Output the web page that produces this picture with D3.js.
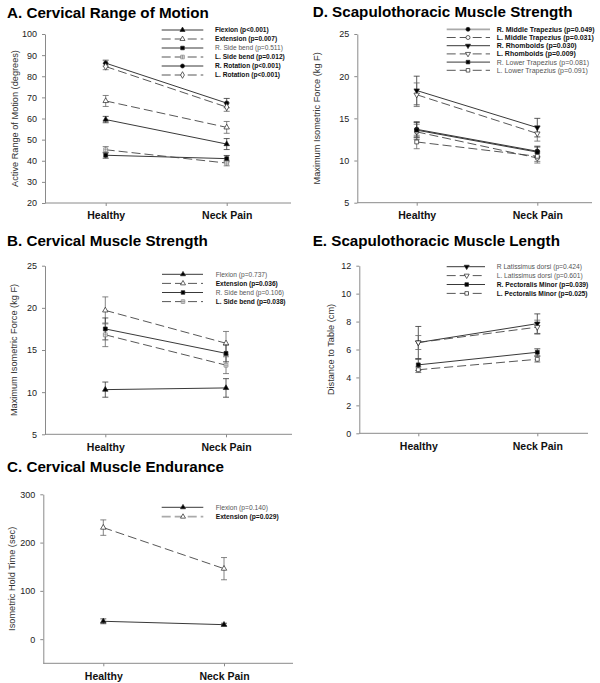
<!DOCTYPE html>
<html><head><meta charset="utf-8">
<script src="https://cdn.jsdelivr.net/npm/d3@7"></script>
<style>body{margin:0;background:#fff;} svg{display:block;font-family:"Liberation Sans",Arial,sans-serif;}</style>
</head><body>
<svg id="c" width="600" height="683"></svg>
<script>
const groups = ["Healthy", "Neck Pain"];

// A. Cervical Range of Motion
const romTicks = [20, 30, 40, 50, 60, 70, 80, 90, 100];
const romNames = ["Flexion (p<0.001)", "Extension (p=0.007)", "R. Side bend (p=0.511)", "L. Side bend (p=0.012)", "R. Rotation (p<0.001)", "L. Rotation (p<0.001)"];
const romSig = [true, true, false, true, true, true];
const romHealthy = [59.5, 68.3, 42.6, 45.2, 86.2, 84.6];
const romNeck = [47.9, 55.8, 41.0, 38.9, 67.3, 65.4];
const romErrHealthy = [1.5, 2.6, 1.4, 1.5, 1.4, 1.5];
const romErrNeck = [2.6, 2.8, 1.5, 1.3, 2.2, 2.0];

// B. Cervical Muscle Strength
const strTicks = [5, 10, 15, 20, 25];
const strNames = ["Flexion (p=0.737)", "Extension (p=0.036)", "R. Side bend (p=0.106)", "L. Side bend (p=0.038)"];
const strSig = [false, true, false, true];
const strHealthy = [10.3, 19.7, 17.5, 16.8];
const strNeck = [10.5, 15.8, 14.6, 13.2];
const strErrHealthy = [0.9, 1.6, 1.3, 1.4];
const strErrNeck = [1.1, 1.4, 1.0, 1.0];

// C. Cervical Muscle Endurance
const endTicks = [0, 100, 200, 300];
const endNames = ["Flexion (p=0.140)", "Extension (p=0.029)"];
const endSig = [false, true];
const endHealthy = [37, 231];
const endNeck = [30, 146];
const endErrHealthy = [5, 16];
const endErrNeck = [3, 23];

// D. Scapulothoracic Muscle Strength
const scsTicks = [5, 10, 15, 20, 25];
const scsNames = ["R. Middle Trapezius (p=0.049)", "L. Middle Trapezius (p=0.031)", "R. Rhomboids (p=0.030)", "L. Rhomboids (p=0.009)", "R. Lower Trapezius (p=0.081)", "L. Lower Trapezius (p=0.091)"];
const scsSig = [true, true, true, true, false, false];
const scsHealthy = [13.7, 13.4, 18.3, 17.8, 13.6, 12.2];
const scsNeck = [11.1, 10.3, 13.9, 13.2, 11.0, 10.5];
const scsErrHealthy = [0.9, 0.9, 1.7, 1.4, 0.9, 0.8];
const scsErrNeck = [0.6, 0.6, 1.1, 0.9, 0.6, 0.6];

// E. Scapulothoracic Muscle Length
const sclTicks = [0, 2, 4, 6, 8, 10, 12];
const sclNames = ["R Latissimus dorsi (p=0.424)", "L. Latissimus dorsi (p=0.601)", "R. Pectoralis Minor (p=0.039)", "L. Pectoralis Minor (p=0.025)"];
const sclSig = [false, false, true, true];
const sclHealthy = [6.5, 6.5, 4.9, 4.55];
const sclNeck = [7.85, 7.6, 5.8, 5.3];
const sclErrHealthy = [1.15, 0.5, 0.4, 0.2];
const sclErrNeck = [0.7, 0.5, 0.25, 0.2];

const svg = d3.select("#c");
const AXIS = "#8a8a8a";

const panels = [
  {title: "A. Cervical Range of Motion", ylab: "Active Range of Motion (degrees)", ticks: romTicks, domain: [20, 100],
   names: romNames, sig: romSig, h: romHealthy, n: romNeck, eh: romErrHealthy, en: romErrNeck,
   sym: ["triUp", "triUp", "square", "squareCross", "circle", "diamond"], fill: [1, 0, 1, 0, 1, 0], dash: [0, 1, 0, 1, 0, 1], gleg: [],
   x0: 45, x1: 291, yT: 34, yB: 203, hx: 105.7, nx: 226.7, tx: 7, ty: 17.5, labX: 15,
   lx0: 161.7, lx1: 203.3, lmx: 182.5, ltx: 215, ly: 30, lstep: 9, lfs: 6.6},
  {title: "B. Cervical Muscle Strength", ylab: "Maximum Isometric Force (kg F)", ticks: strTicks, domain: [5, 25],
   names: strNames, sig: strSig, h: strHealthy, n: strNeck, eh: strErrHealthy, en: strErrNeck,
   sym: ["triUp", "triUp", "square", "squareCross"], fill: [1, 0, 1, 0], dash: [0, 1, 0, 1], gleg: [],
   x0: 45, x1: 292, yT: 265.7, yB: 434.3, hx: 105.3, nx: 226, tx: 7, ty: 246, labX: 13.5,
   lx0: 162, lx1: 203, lmx: 183, ltx: 215.7, ly: 274.3, lstep: 9.1, lfs: 6.6},
  {title: "C. Cervical Muscle Endurance", ylab: "Isometric Hold Time (sec)", ticks: endTicks, domain: [-50, 300],
   names: endNames, sig: endSig, h: endHealthy, n: endNeck, eh: endErrHealthy, en: endErrNeck,
   sym: ["triUp", "triUp"], fill: [1, 0], dash: [0, 1], gleg: [1],
   x0: 43.3, x1: 293, yT: 494.3, yB: 663.3, hx: 103.3, nx: 224, tx: 7, ty: 471.5, labX: 12,
   lx0: 161.7, lx1: 203.3, lmx: 183, ltx: 215.7, ly: 507.3, lstep: 9.4, lfs: 6.7},
  {title: "D. Scapulothoracic Muscle Strength", ylab: "Maximum Isometric Force (kg F)", ticks: scsTicks, domain: [5, 25],
   names: scsNames, sig: scsSig, h: scsHealthy, n: scsNeck, eh: scsErrHealthy, en: scsErrNeck,
   sym: ["circle", "circle", "triDown", "triDown", "square", "square"], fill: [1, 0, 1, 0, 1, 0], dash: [0, 1, 0, 1, 0, 1], gleg: [0],
   x0: 357.3, x1: 592, yT: 34, yB: 202.7, hx: 416.7, nx: 537.3, tx: 312.7, ty: 17, labX: 316.7,
   lx0: 446.7, lx1: 490, lmx: 468, ltx: 496.7, ly: 29.3, lstep: 8.2, lfs: 7},
  {title: "E. Scapulothoracic Muscle Length", ylab: "Distance to Table  (cm)", ticks: sclTicks, domain: [0, 12],
   names: sclNames, sig: sclSig, h: sclHealthy, n: sclNeck, eh: sclErrHealthy, en: sclErrNeck,
   sym: ["triDown", "triDown", "square", "square"], fill: [1, 0, 1, 0], dash: [0, 1, 0, 1], gleg: [],
   x0: 359.3, x1: 588, yT: 265.7, yB: 433.3, hx: 418.3, nx: 537.3, tx: 312.7, ty: 246, labX: 330.7,
   lx0: 446.7, lx1: 485, lmx: 466.7, ltx: 496.7, ly: 266.7, lstep: 8.9, lfs: 6.7}
];

function drawSymbol(g, type, filled, cx, cy, s) {
  s = s || 1;
  const fillC = filled ? "#000" : "#fff";
  const strokeC = type === "squareCross" ? "#777" : "#222";
  let path;
  if (type === "triUp" || type === "triDown") path = d3.symbol(d3.symbolTriangle, 13 * s)();
  else if (type === "square" || type === "squareCross") path = d3.symbol(d3.symbolSquare, 15 * s)();
  else if (type === "circle") path = d3.symbol(d3.symbolCircle, 15 * s)();
  else if (type === "diamond") path = d3.symbol(d3.symbolDiamond, 15 * s)();
  g.append("path").attr("d", path)
    .attr("transform", `translate(${cx},${cy})` + (type === "triDown" ? " rotate(180)" : ""))
    .attr("fill", fillC).attr("stroke", strokeC).attr("stroke-width", 0.7);
  if (type === "squareCross") {
    g.append("path").attr("d", `M${cx - 1.9},${cy}H${cx + 1.9}M${cx},${cy - 1.9}V${cy + 1.9}`)
      .attr("stroke", "#777").attr("stroke-width", 0.6);
  }
}

panels.forEach(p => {
  const g = svg.append("g");
  const y = d3.scaleLinear().domain(p.domain).range([p.yB, p.yT]);
  const x = d3.scalePoint().domain(groups).range([p.hx, p.nx]);

  g.append("text").attr("x", p.tx).attr("y", p.ty).text(p.title)
    .attr("font-size", 15.2).attr("font-weight", "bold").attr("fill", "#000");

  const ya = g.append("g").attr("transform", `translate(${p.x0},0)`)
    .call(d3.axisLeft(y).tickValues(p.ticks).tickSize(3).tickSizeOuter(0).tickPadding(5));
  ya.select(".domain").attr("stroke", AXIS);
  ya.selectAll(".tick line").attr("stroke", AXIS);
  ya.selectAll(".tick text").attr("font-size", 9).attr("fill", "#222").attr("font-family", "Liberation Sans, Arial, sans-serif");
  g.append("line").attr("x1", p.x0).attr("x2", p.x1).attr("y1", p.yB).attr("y2", p.yB).attr("stroke", AXIS);
  const xa = g.append("g").attr("transform", `translate(0,${p.yB})`)
    .call(d3.axisBottom(x).tickSize(3).tickPadding(6));
  xa.select(".domain").remove();
  xa.selectAll(".tick line").attr("stroke", AXIS);
  xa.selectAll(".tick text").attr("font-size", 10.5).attr("font-weight", "bold").attr("fill", "#111")
    .attr("font-family", "Liberation Sans, Arial, sans-serif");

  g.append("text").attr("transform", `translate(${p.labX},${(p.yT + p.yB) / 2}) rotate(-90)`)
    .attr("text-anchor", "middle").attr("dy", "0.35em").attr("font-size", 9.2).attr("fill", "#333").text(p.ylab);

  p.names.forEach((nm, i) => {
    g.append("line").attr("x1", x(groups[0])).attr("y1", y(p.h[i])).attr("x2", x(groups[1])).attr("y2", y(p.n[i]))
      .attr("stroke", p.dash[i] ? "#444" : "#222").attr("stroke-width", 0.9)
      .attr("stroke-dasharray", p.dash[i] ? "9,4" : null);
  });
  p.names.forEach((nm, i) => {
    [[groups[0], p.h[i], p.eh[i]], [groups[1], p.n[i], p.en[i]]].forEach(([gr, v, e]) => {
      const cx = x(gr);
      const col = p.dash[i] ? "#666" : "#333";
      g.append("path").attr("d", `M${cx},${y(v - e)}V${y(v + e)}M${cx - 3},${y(v + e)}H${cx + 3}M${cx - 3},${y(v - e)}H${cx + 3}`)
        .attr("stroke", col).attr("stroke-width", 0.8).attr("fill", "none");
    });
  });
  p.names.forEach((nm, i) => {
    drawSymbol(g, p.sym[i], p.fill[i], x(groups[0]), y(p.h[i]));
    drawSymbol(g, p.sym[i], p.fill[i], x(groups[1]), y(p.n[i]));
  });

  p.names.forEach((nm, i) => {
    const ly = p.ly + i * p.lstep;
    const grayLeg = p.gleg.includes(i);
    g.append("line").attr("x1", p.lx0).attr("x2", p.lx1).attr("y1", ly).attr("y2", ly)
      .attr("stroke", grayLeg ? "#aaa" : (p.dash[i] ? "#444" : "#222"))
      .attr("stroke-width", grayLeg ? 1.8 : 0.9)
      .attr("stroke-dasharray", p.dash[i] ? "9,4" : null);
    drawSymbol(g, p.sym[i], p.fill[i], p.lmx, ly, 0.85);
    g.append("text").attr("x", p.ltx).attr("y", ly).attr("dy", "0.35em").text(nm)
      .attr("font-size", p.lfs).attr("font-weight", p.sig[i] ? "bold" : "normal")
      .attr("fill", p.sig[i] ? "#111" : "#555");
  });
});
</script>
</body></html>
